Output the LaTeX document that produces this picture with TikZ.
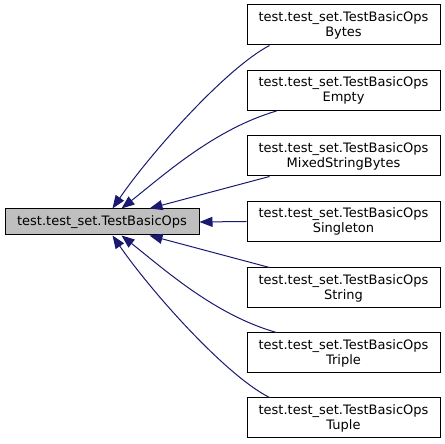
\documentclass[tikz,border=0pt]{standalone}
\usepackage{fontspec}
\setmainfont{DejaVu Sans}
\usetikzlibrary{arrows.meta}
\definecolor{edgeblue}{HTML}{191970}
\definecolor{basegray}{HTML}{BFBFBF}
\tikzset{
  cls/.style={draw=black, line width=1pt, fill=white, minimum width=193pt, minimum height=40pt, inner sep=0pt, align=center, font=\fontsize{13}{15}\selectfont},
  basecls/.style={cls, fill=basegray, minimum width=194pt, minimum height=26pt},
  inh/.style={draw=edgeblue, line width=1pt, -{Triangle[length=13pt,width=10pt]}}
}
\begin{document}
\begin{tikzpicture}[x=1pt,y=1pt]
\useasboundingbox (0,0) rectangle (445,444);
\node[basecls] (base) at (102,222) {test.test\_set.TestBasicOps};
\node[cls] (bytes) at (343.5,419) {test.test\_set.TestBasicOps\\Bytes};
\node[cls] (empty) at (343.5,353.5) {test.test\_set.TestBasicOps\\Empty};
\node[cls] (mixed) at (343.5,288) {test.test\_set.TestBasicOps\\MixedStringBytes};
\node[cls] (single) at (343.5,222.5) {test.test\_set.TestBasicOps\\Singleton};
\node[cls] (string) at (343.5,156) {test.test\_set.TestBasicOps\\String};
\node[cls] (triple) at (343.5,91) {test.test\_set.TestBasicOps\\Triple};
\node[cls] (tuple) at (343.5,26) {test.test\_set.TestBasicOps\\Tuple};
\draw[inh] ([xshift=23pt]bytes.south west) .. controls (225,375) and (150,290) .. ([xshift=108pt]base.north west);
\draw[inh] ([xshift=30pt]empty.south west) .. controls (215,315) and (165,270) .. ([xshift=117pt]base.north west);
\draw[inh] ([xshift=23pt]mixed.south west) -- ([xshift=145pt]base.north west);
\draw[inh] (single.west) -- (base.east);
\draw[inh] ([xshift=23pt]string.north west) -- ([xshift=145pt]base.south west);
\draw[inh] ([xshift=30pt]triple.north west) .. controls (215,129) and (165,174) .. ([xshift=117pt]base.south west);
\draw[inh] ([xshift=23pt]tuple.north west) .. controls (225,69) and (150,154) .. ([xshift=108pt]base.south west);
\end{tikzpicture}
\end{document}
